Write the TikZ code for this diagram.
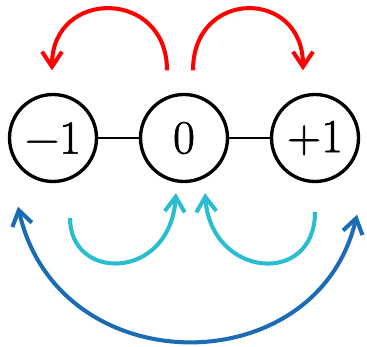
\documentclass[tikz,border=0pt]{standalone}
\usepackage{fontspec}
\newfontfamily\numfont{Latin Modern Roman}[FakeBold=1.3]
\usepackage{tikz}
\usetikzlibrary{arrows.meta}

\definecolor{hopred}{RGB}{255,0,0}
\definecolor{hopcyan}{RGB}{42,188,208}
\definecolor{hopblue}{RGB}{28,108,181}

\begin{document}
\begin{tikzpicture}[
        state/.style={
            circle, draw, line width=1.9pt,
            minimum size=1.74cm, inner sep=0pt,
            font=\numfont\fontsize{27}{30}\selectfont
        },
        link/.style={line width=1pt},
        hop/.style={
            line width=2.3pt,
            -{Straight Barb[length=0.3cm,width=0.4cm]}
        },
        bihop/.style={
            line width=2.3pt,
            {Straight Barb[length=0.3cm,width=0.4cm]}-{Straight Barb[length=0.3cm,width=0.4cm]}
        }
    ]
        \useasboundingbox (0,0) rectangle (7.34,6.94);

        \node[state] (m) at (1.06, 4.18) {−1};
        \node[state] (z) at (3.68, 4.18) {0};
        \node[state] (p) at (6.30, 4.18) {+1};

        \draw[link] (m) -- (z);
        \draw[link] (z) -- (p);

        % upper hops
        \draw[hop, hopred] ([shift={(-0.34,0.45)}]z.north)
            .. controls +(0,1.64) and +(0,1.64) .. ([shift={(-0.02,0.45)}]m.north);
        \draw[hop, hopred] ([shift={(0.18,0.45)}]z.north)
            .. controls +(0,1.64) and +(0,1.64) .. ([shift={(-0.24,0.45)}]p.north);

        % lower hops
        \coordinate (cl) at (1.40, 2.58);
        \coordinate (cr) at (6.30, 2.70);
        \draw[hop, hopcyan] (cl)
            .. controls +(0,-1.28) and +(-0.12,-1.76) .. ([shift={(-0.16,-0.2)}]z.south);
        \draw[hop, hopcyan] (cr)
            .. controls +(0,-1.5) and +(0.12,-1.7) .. ([shift={(0.42,-0.2)}]z.south);

        % long hop
        \draw[bihop, hopblue] ([shift={(-0.70,-0.47)}]m.south)
            .. controls +(0.8,-3.55) and +(-0.8,-3.4) .. ([shift={(0.84,-0.63)}]p.south);
    \end{tikzpicture}
\end{document}
